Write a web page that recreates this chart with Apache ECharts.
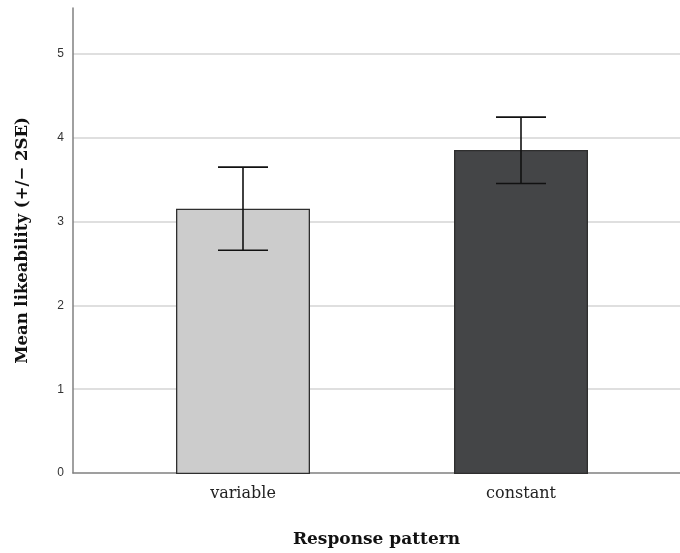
<!DOCTYPE html>
<html>
<head>
<meta charset="utf-8">
<script src="https://cdn.jsdelivr.net/npm/echarts@6/dist/echarts.min.js"></script>
<style>html,body{margin:0;padding:0;background:#fff;}#c{width:680px;height:553px;}</style>
</head>
<body>
<div id="c"></div>
<script>
const categories = ['variable', 'constant'];
const means = [3.16, 3.86];
const lower = [2.665, 3.46];
const upper = [3.655, 4.25];
const yTicks = [0, 1, 2, 3, 4, 5];
const yMax = 5.55;

const chart = echarts.init(document.getElementById('c'), null, {renderer: 'canvas'});
const serif = '"DejaVu Serif", "Liberation Serif", serif';
const barColors = ['#cccccc', '#444547'];

const option = {
  animation: false,
  backgroundColor: '#ffffff',
  grid: [
    {left: 73, right: 0, top: 8, bottom: 79},
    {left: 104, right: 20, top: 8, bottom: 79}
  ],
  xAxis: [
    {gridIndex: 0, type: 'value', min: 0, max: 1, axisLine: {show: true, onZero: false, lineStyle: {color: '#808080', width: 1.5}},
     axisTick: {show: false}, axisLabel: {show: false}, splitLine: {show: false},
     name: 'Response pattern', nameLocation: 'middle', nameGap: 58,
     nameTextStyle: {fontFamily: serif, fontWeight: 'bold', fontSize: 17, color: '#111'}},
    {gridIndex: 1, type: 'category', data: categories, boundaryGap: true,
     axisLine: {show: false}, axisTick: {show: false},
     axisLabel: {fontFamily: serif, fontSize: 16, color: '#222', margin: 12}}
  ],
  yAxis: [
    {gridIndex: 0, type: 'value', min: 0, max: yMax, interval: 1,
     axisLine: {show: true, lineStyle: {color: '#808080', width: 1.5}},
     axisTick: {show: false},
     axisLabel: {fontFamily: '"Liberation Sans", Arial, sans-serif', fontSize: 12, color: '#333', margin: 9,
       formatter: v => yTicks.indexOf(v) >= 0 ? String(v) : ''},
     splitLine: {show: false},
     name: 'Mean likeability (+/\u2212 2SE)', nameLocation: 'middle', nameGap: 42,
     nameTextStyle: {fontFamily: serif, fontWeight: 'bold', fontSize: 16.5, color: '#111'}},
    {gridIndex: 1, type: 'value', min: 0, max: yMax, show: false, splitLine: {show: false}}
  ],
  series: [
    {
      type: 'line', xAxisIndex: 0, yAxisIndex: 0, data: [], silent: true, z: 0,
      markLine: {
        silent: true, symbol: 'none', label: {show: false}, z: 0,
        lineStyle: {color: '#d4d4d4', width: 1.5, type: 'solid'},
        data: yTicks.filter(t => t > 0).map(t => ({yAxis: t}))
      }
    },
    {
      type: 'bar', xAxisIndex: 1, yAxisIndex: 1, barWidth: 134, z: 3,
      data: means.map((v, i) => ({value: v, itemStyle: {color: barColors[i], borderColor: '#2e2e2e', borderWidth: 1.3}}))
    },
    {
      type: 'custom', xAxisIndex: 1, yAxisIndex: 1, z: 6,
      data: categories.map((c, i) => [i, lower[i], upper[i]]),
      renderItem: function (params, api) {
        const lo = api.coord([api.value(0), api.value(1)]);
        const hi = api.coord([api.value(0), api.value(2)]);
        const hw = 25;
        const style = {stroke: '#111', lineWidth: 1.6};
        return {type: 'group', children: [
          {type: 'line', shape: {x1: hi[0], y1: hi[1], x2: lo[0], y2: lo[1]}, style: style},
          {type: 'line', shape: {x1: hi[0] - hw, y1: hi[1], x2: hi[0] + hw, y2: hi[1]}, style: style},
          {type: 'line', shape: {x1: lo[0] - hw, y1: lo[1], x2: lo[0] + hw, y2: lo[1]}, style: style}
        ]};
      }
    }
  ]
};
chart.setOption(option);
</script>
</body>
</html>
